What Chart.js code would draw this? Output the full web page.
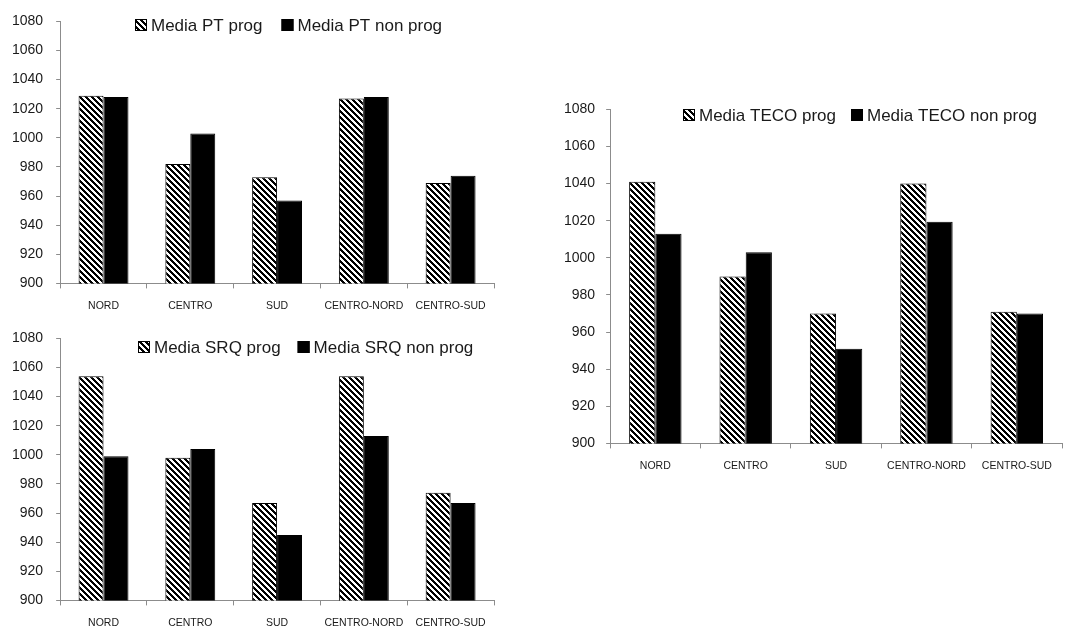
<!DOCTYPE html>
<html>
<head>
<meta charset="utf-8">
<script src="https://cdn.jsdelivr.net/npm/chart.js@4.4.1/dist/chart.umd.min.js"></script>
<style>
  html, body { margin: 0; padding: 0; background: #fff; overflow: hidden; width: 1084px; height: 628px; }
  .box { position: absolute; }
</style>
</head>
<body>
<div class="box" style="left:0;top:0;width:520px;height:323px;"><canvas id="cPT"></canvas></div>
<div class="box" style="left:0;top:317px;width:520px;height:323px;"><canvas id="cSRQ"></canvas></div>
<div class="box" style="left:530px;top:90px;width:554px;height:393px;"><canvas id="cTECO"></canvas></div>
<script>
// ---- data ----
const categories = ['NORD', 'CENTRO', 'SUD', 'CENTRO-NORD', 'CENTRO-SUD'];
const yTicks = [900, 920, 940, 960, 980, 1000, 1020, 1040, 1060, 1080];

const ptLabels = ['Media PT prog', 'Media PT non prog'];
const ptProg = [1029, 982, 973, 1027, 969];
const ptNonProg = [1028, 1003, 957, 1028, 974];

const srqLabels = ['Media SRQ prog', 'Media SRQ non prog'];
const srqProg = [1054, 998, 967, 1054, 974];
const srqNonProg = [999, 1004, 945, 1013, 967];

const tecoLabels = ['Media TECO prog', 'Media TECO non prog'];
const tecoProg = [1041, 990, 970, 1040, 971];
const tecoNonProg = [1013, 1003, 951, 1019.5, 970];

// ---- styling ----
const FONT = "'Liberation Sans', Arial, sans-serif";
const AXIS = '#8c8c8c';
const TEXT = '#1a1a1a';

function makeHatch() {
  const c = document.createElement('canvas');
  const n = 6;
  c.width = n; c.height = n;
  const g = c.getContext('2d');
  g.fillStyle = '#fff';
  g.fillRect(0, 0, n, n);
  g.fillStyle = '#000';
  for (let y = 0; y < n; y++) {
    for (let x = 0; x < n; x++) {
      if ((((x - y) % n) + n) % n < 3) g.fillRect(x, y, 1, 1);
    }
  }
  return g.createPattern(c, 'repeat');
}

const inlineLegend = {
  id: 'inlineLegend',
  afterDraw(chart, args, opts) {
    const ctx = chart.ctx;
    ctx.save();
    ctx.font = "17px " + FONT;
    ctx.textBaseline = 'middle';
    ctx.textAlign = 'left';
    let x = opts.x;
    const y = opts.y;
    const b = 12;
    chart.data.datasets.forEach((ds, i) => {
      ctx.fillStyle = ds.backgroundColor;
      ctx.fillRect(x, y - b / 2, b, b);
      ctx.strokeStyle = '#000';
      ctx.lineWidth = 1;
      ctx.strokeRect(x + 0.5, y - b / 2 + 0.5, b - 1, b - 1);
      ctx.fillStyle = TEXT;
      ctx.fillText(ds.label, x + b + 4, y + 1);
      x += b + 4 + ctx.measureText(ds.label).width + opts.gap;
    });
    ctx.restore();
  }
};

function build(id, labels, prog, nonProg, cfg) {
  const hatch = makeHatch();
  return new Chart(document.getElementById(id), {
    type: 'bar',
    data: {
      labels: categories,
      datasets: [
        { label: labels[0], data: prog, backgroundColor: hatch, borderColor: '#000', borderWidth: 1,
          categoryPercentage: cfg.cat, barPercentage: 1.0 },
        { label: labels[1], data: nonProg, backgroundColor: '#000', borderColor: '#000', borderWidth: 1,
          categoryPercentage: cfg.cat, barPercentage: 1.0 }
      ]
    },
    options: {
      responsive: true,
      maintainAspectRatio: false,
      animation: false,
      layout: { padding: cfg.padding },
      plugins: {
        legend: { display: false },
        tooltip: { enabled: false },
        inlineLegend: cfg.legend
      },
      scales: {
        x: {
          offset: true,
          grid: { display: true, drawOnChartArea: false, drawTicks: true, tickLength: 5, color: AXIS, offset: true },
          border: { display: true, color: AXIS, width: 1 },
          ticks: { color: TEXT, font: { family: FONT, size: 10.5 }, padding: 11, maxRotation: 0, autoSkip: false }
        },
        y: {
          min: 900, max: 1080,
          afterBuildTicks: (axis) => { axis.ticks = yTicks.map(v => ({ value: v })); },
          grid: { display: true, drawOnChartArea: false, drawTicks: true, tickLength: 4, color: AXIS },
          border: { display: true, color: AXIS, width: 1 },
          ticks: { color: TEXT, font: { family: FONT, size: 14 }, padding: cfg.yPad,
                   callback: (v) => String(v) }
        }
      }
    },
    plugins: [inlineLegend]
  });
}

build('cPT', ptLabels, ptProg, ptNonProg, {
  cat: 0.575,
  padding: { left: -1, top: 18, right: 26, bottom: 0 },
  yPad: 13,
  legend: { x: 135, y: 25, gap: 19 }
});
build('cSRQ', srqLabels, srqProg, srqNonProg, {
  cat: 0.575,
  padding: { left: -1, top: 18, right: 26, bottom: 0 },
  yPad: 13,
  legend: { x: 138, y: 30, gap: 17 }
});
build('cTECO', tecoLabels, tecoProg, tecoNonProg, {
  cat: 0.58,
  padding: { left: 23, top: 16, right: 22, bottom: 0 },
  yPad: 11,
  legend: { x: 153, y: 25, gap: 15 }
});
</script>
</body>
</html>
